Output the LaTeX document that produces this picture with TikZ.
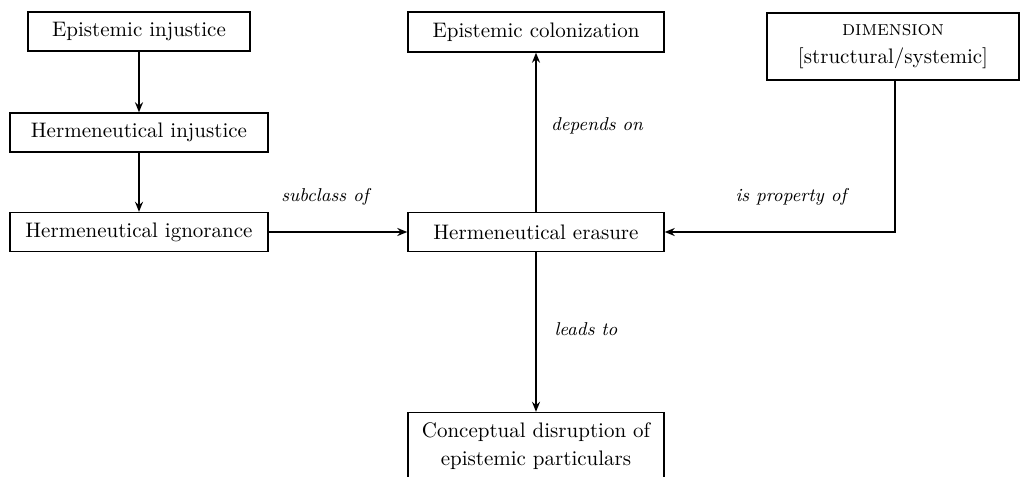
\documentclass[tikz,border=0pt]{standalone}
\usetikzlibrary{arrows.meta}
\begin{document}
\begin{tikzpicture}[x=0.5pt,y=-0.5pt,
  box/.style={draw=black,line width=0.7pt,fill=white,inner sep=0pt,align=center,font=\fontsize{10.5}{14}\selectfont},
  conn/.style={line width=0.8pt,-{Stealth[length=5pt,width=4pt]}},
  lbl/.style={font=\fontsize{9.3}{12}\selectfont\itshape}]
\clip (0,0) rectangle (1020,476);
\fill[white] (0,0) rectangle (1020,476);
\node[box,minimum width=111pt,minimum height=19.5pt] (ei) at (139,31.5) {Epistemic injustice};
\node[box,minimum width=129pt,minimum height=19.5pt] (hinj) at (139,132.5) {Hermeneutical injustice};
\node[box,minimum width=129pt,minimum height=19.5pt] (hign) at (139,232) {Hermeneutical ignorance};
\node[box,minimum width=128pt,minimum height=19.5pt] (her) at (536,232) {Hermeneutical erasure};
\node[box,minimum width=128pt,minimum height=20pt] (col) at (536,32) {Epistemic colonization};
\node[box,minimum width=126pt,minimum height=33.5pt] (dim) at (893,46.5) {\textsc{dimension}\\{}[structural/systemic]};
\node[box,minimum width=128pt,minimum height=34pt] (con) at (536,446.5) {Conceptual disruption of\\epistemic particulars};
\draw[conn] (ei) -- (hinj);
\draw[conn] (hinj) -- (hign);
\draw[conn] (hign) -- (her);
\draw[conn] (her) -- (col);
\draw[conn] ([xshift=1pt]dim.south) |- (her.east);
\draw[conn] (her) -- (con);
\node[lbl] (l1) at (325,197) {subclass of};
\node[lbl] (l2) at (597,126) {depends on};
\node[lbl] (l3) at (791,197) {is property of};
\node[lbl] (l4) at (586,329) {leads to};
\end{tikzpicture}
\end{document}
